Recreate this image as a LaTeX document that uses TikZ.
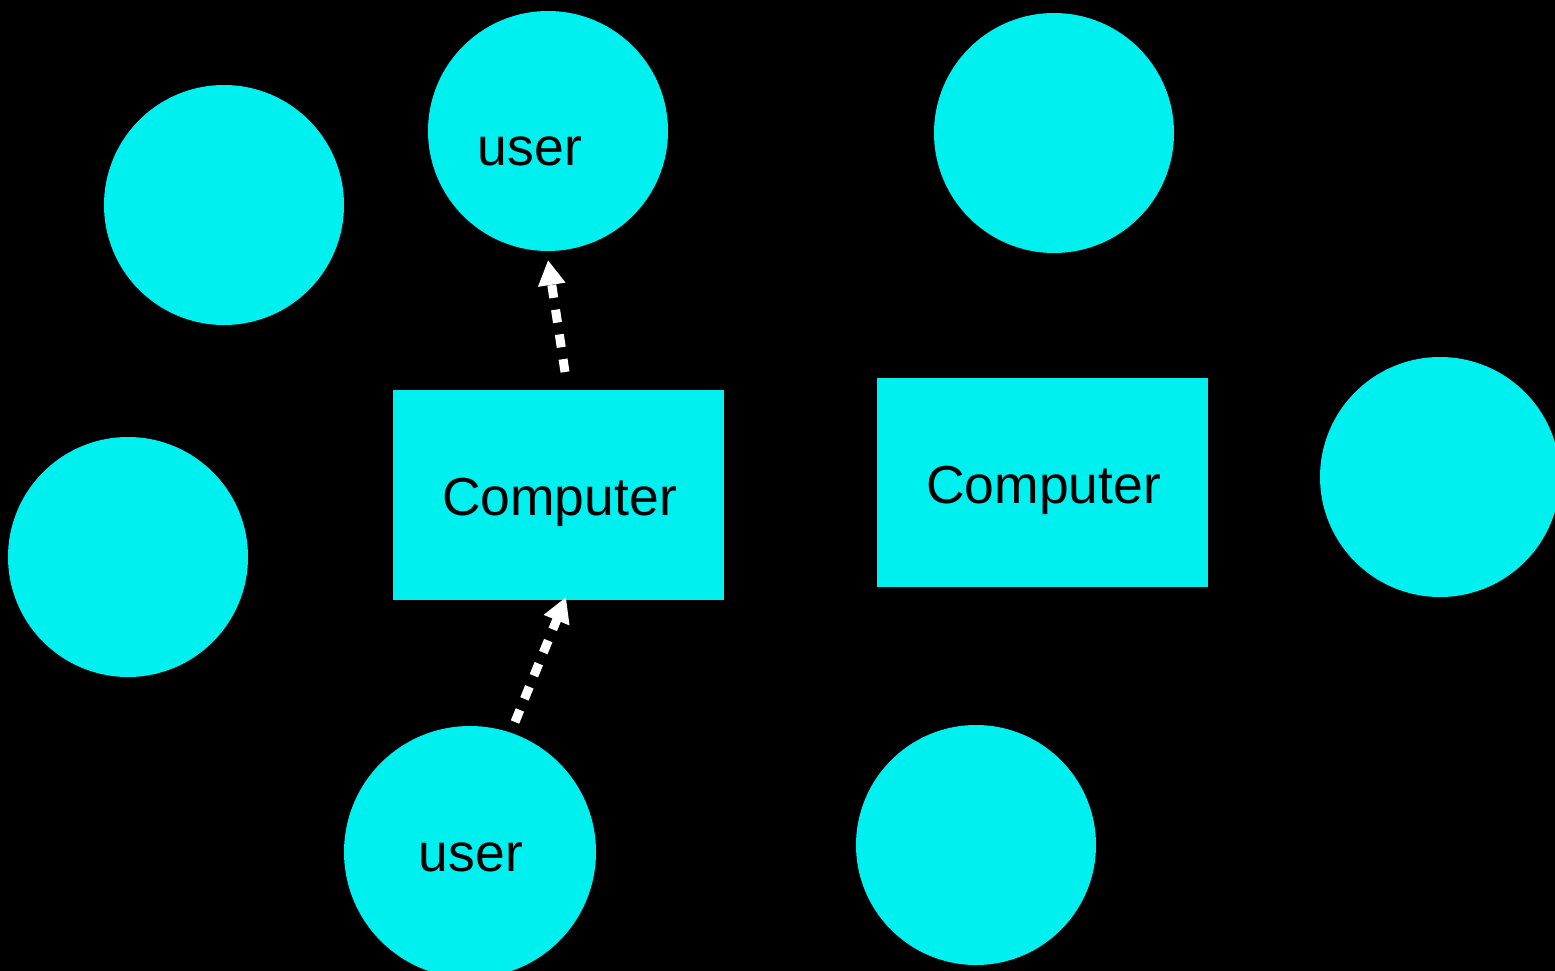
\documentclass[tikz,border=0pt]{standalone}
\usepackage{fontspec}
\setmainfont{Liberation Sans}
\usetikzlibrary{arrows.meta}
\definecolor{cy}{HTML}{00F0F0}
\begin{document}
\begin{tikzpicture}[x=1pt,y=-1pt,
  circ/.style={circle,fill=cy,inner sep=0pt,minimum size=240pt},
  box/.style={rectangle,fill=cy,inner sep=0pt,minimum width=331pt,minimum height=210pt},
  lbl/.style={font=\fontsize{53.5}{60}\selectfont,text=black,inner sep=0pt},
  conn/.style={white,line width=9pt,dash pattern=on 13pt off 12pt,-{Triangle[width=26pt,length=25pt]}}]
\fill[black] (0,0) rectangle (1555,971);
\useasboundingbox (0,0) rectangle (1555,971);
\begin{scope}
\clip (0,0) rectangle (1555,971);
\node[circ] (k1) at (224,205) {};
\node[circ] (u1) at (548,131) {};
\node[circ] (k3) at (1054,133) {};
\node[circ] (k4) at (128,557) {};
\node[circ] (k5) at (1440,477) {};
\node[circ,minimum size=252pt] (u2) at (470,852) {};
\node[circ] (k7) at (976,845) {};
\node[box] (c1) at (558.5,495) {};
\node[box,minimum height=209pt] (c2) at (1042.5,482.5) {};
\end{scope}
\node[lbl] (t1) at (530,151) {user};
\node[lbl] (t2) at (471,857) {user};
\node[lbl] (t3) at (559.5,502) {Computer};
\node[lbl] (t4) at (1043.5,490) {Computer};
\coordinate (a1s) at (565,372);
\coordinate (a1e) at (548,260);
\coordinate (a2s) at (515,722);
\coordinate (a2e) at (566,597);
\draw[conn] (a1s) -- (a1e);
\draw[conn] (a2s) -- (a2e);
\end{tikzpicture}
\end{document}
